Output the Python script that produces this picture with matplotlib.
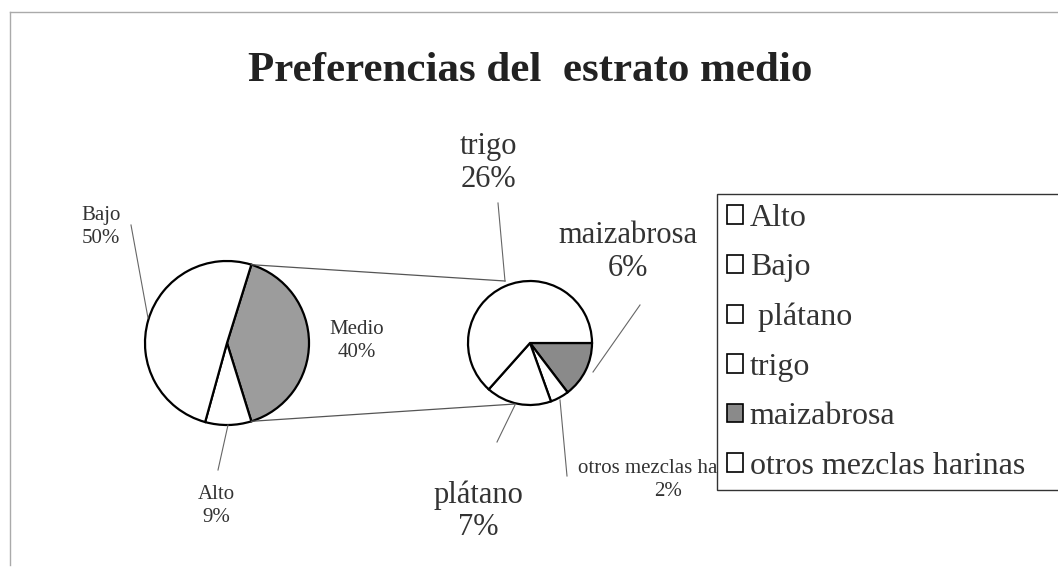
import matplotlib
matplotlib.use("Agg")
import matplotlib.pyplot as plt
import numpy as np

# estrato medio: primary pie and breakdown of "Medio"
main_labels = ["Medio", "Alto", "Bajo"]
main_values = [40, 9, 50]
sub_labels = ["maizabrosa", "otros mezclas harinas", "plátano", "trigo"]
sub_values = [6, 2, 7, 26]
legend_labels = ["Alto", "Bajo", " plátano", "trigo", "maizabrosa", "otros mezclas harinas"]

W, H = 1058, 573
plt.rcParams['font.family'] = ['Liberation Serif', 'DejaVu Serif']

fig = plt.figure(figsize=(W / 100, H / 100), dpi=100)
ax = fig.add_axes([0, 0, 1, 1])

def Y(py):
    # pixel row (top-down) -> data y
    return H - py

wp = dict(edgecolor="black", linewidth=1.6)
main_cols = ["#9c9c9c", "white", "white"]
sub_cols = ["#8a8a8a", "white", "white", "white"]

c1, r1 = (227, Y(343)), 82
c2, r2 = (530, Y(343)), 62
start1 = main_values[0] / sum(main_values) * 360 / 2
w1, _ = ax.pie(main_values, colors=main_cols, startangle=start1, counterclock=False,
               center=c1, radius=r1, wedgeprops=wp)
w2, _ = ax.pie(sub_values, colors=sub_cols, startangle=0, counterclock=False,
               center=c2, radius=r2, wedgeprops=wp)

ax.set_xlim(0, W)
ax.set_ylim(0, H)
ax.set_aspect("equal")
ax.axis("off")

# connector lines between the two pies
t = np.deg2rad(start1)
ax.plot([c1[0] + r1 * np.cos(t), 505], [c1[1] + r1 * np.sin(t), Y(281)],
        color="#555555", lw=0.9)
ax.plot([c1[0] + r1 * np.cos(-t), 515], [c1[1] + r1 * np.sin(-t), Y(404)],
        color="#555555", lw=0.9)

# leader lines
leaders = [((131, 225), (148, 318)), ((228, 425), (218, 470)),
           ((498, 203), (505, 281)), ((593, 372), (640, 305)),
           ((515, 405), (497, 442)), ((560, 400), (567, 476))]
for (xa, ya), (xb, yb) in leaders:
    ax.plot([xa, xb], [Y(ya), Y(yb)], color="#666666", lw=0.8)

tc = "#333333"
small = 15
big = 22
def pct(v):
    return "%d%%" % v

ax.text(101, Y(227), "Bajo\n" + pct(main_values[2]), ha="center", va="center",
        fontsize=small, color=tc, linespacing=1.35)
ax.text(357, Y(341), "Medio\n" + pct(main_values[0]), ha="center", va="center",
        fontsize=small, color=tc, linespacing=1.35)
ax.text(216, Y(506), "Alto\n" + pct(main_values[1]), ha="center", va="center",
        fontsize=small, color=tc, linespacing=1.35)
ax.text(488, Y(163), "trigo\n" + pct(sub_values[3]), ha="center", va="center",
        fontsize=big, color=tc, linespacing=1.15)
ax.text(628, Y(252), "maizabrosa\n" + pct(sub_values[0]), ha="center", va="center",
        fontsize=big, color=tc, linespacing=1.15, zorder=1)
ax.text(478, Y(511), "plátano\n" + pct(sub_values[2]), ha="center", va="center",
        fontsize=big, color=tc, linespacing=1.15)
ax.text(668, Y(480), "otros mezclas harinas\n" + pct(sub_values[1]), ha="center",
        va="center", fontsize=small, color=tc, linespacing=1.35, zorder=1)

fig.text(530 / W, 1 - 71 / H, "Preferencias del  estrato medio", ha="center",
         va="center", fontsize=31, fontweight="bold", color="#222222")

handles = [w1[1], w1[2], w2[2], w2[3], w2[0], w2[1]]
leg = ax.legend(handles, legend_labels, loc="upper left", mode="expand",
                bbox_to_anchor=(717 / W, 1 - 195 / H, 360 / W, 0.001),
                bbox_transform=fig.transFigure,
                fontsize=23, frameon=True, fancybox=False, framealpha=1,
                edgecolor="#333333", handlelength=0.52, handleheight=0.52,
                handletextpad=0.2, labelspacing=0.64, borderpad=0.3,
                borderaxespad=0)
leg.get_frame().set_linewidth(1.0)
for txt in leg.get_texts():
    txt.set_color(tc)
for h in leg.legend_handles:
    h.set_linewidth(1.2)
leg.set_zorder(5)

# chart area border (left and top)
fig.add_artist(plt.Line2D([10 / W, 10 / W], [1 - 12 / H, 1 - 565 / H],
                          transform=fig.transFigure, color="#aaaaaa", lw=1))
fig.add_artist(plt.Line2D([10 / W, 1], [1 - 12 / H, 1 - 12 / H],
                          transform=fig.transFigure, color="#aaaaaa", lw=1))

fig.savefig("out.png", dpi=100, facecolor="white")
